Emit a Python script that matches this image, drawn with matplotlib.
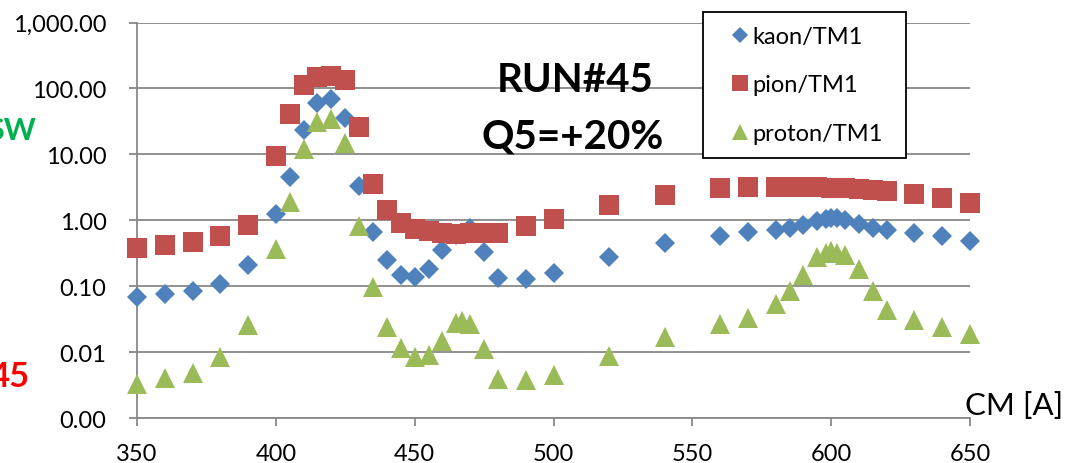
import numpy as np
import matplotlib
matplotlib.use("Agg")
import matplotlib.pyplot as plt
from matplotlib.ticker import FuncFormatter

plt.rcParams["font.family"] = ["Lato", "DejaVu Sans"]

# CM current [A]
kaon_x = [350, 360, 370, 380, 390, 400, 405, 410, 415, 420, 425, 430, 435, 440, 445,
          450, 455, 460, 465, 470, 475, 480, 490, 500, 520, 540, 560, 570, 580, 585,
          590, 595, 598, 600, 602, 605, 610, 615, 620, 630, 640, 650]
kaon_y = [0.068, 0.076, 0.084, 0.107, 0.208, 1.25, 4.6, 23.5, 61, 70, 36, 3.3, 0.67, 0.25, 0.147,
          0.137, 0.18, 0.35, 0.6, 0.75, 0.33, 0.132, 0.128, 0.16, 0.275, 0.45, 0.57, 0.66, 0.72, 0.77,
          0.86, 0.97, 1.05, 1.1, 1.08, 1.0, 0.88, 0.77, 0.70, 0.64, 0.57, 0.48]

pion_x = [350, 360, 370, 380, 390, 400, 405, 410, 415, 420, 425, 430, 435, 440, 445,
          450, 455, 460, 465, 470, 475, 480, 490, 500, 520, 540, 560, 570, 580, 585,
          590, 595, 600, 605, 610, 615, 620, 630, 640, 650]
pion_y = [0.38, 0.42, 0.46, 0.57, 0.84, 9.3, 41, 111, 148, 155, 132, 25.6, 3.5, 1.45, 0.9,
          0.73, 0.68, 0.64, 0.62, 0.63, 0.64, 0.65, 0.81, 1.03, 1.69, 2.4, 3.05, 3.15, 3.15, 3.15,
          3.15, 3.15, 3.1, 3.05, 2.95, 2.85, 2.75, 2.5, 2.15, 1.8]

proton_x = [350, 360, 370, 380, 390, 400, 405, 410, 415, 420, 425, 430, 435, 440, 445,
            450, 455, 460, 465, 467, 470, 475, 480, 490, 500, 520, 540, 560, 570, 580, 585,
            590, 595, 598, 600, 602, 605, 610, 615, 620, 630, 640, 650]
proton_y = [0.0033, 0.0040, 0.0048, 0.0084, 0.026, 0.36, 1.9, 12, 31, 34, 15, 0.81, 0.096, 0.024, 0.0115,
            0.0084, 0.009, 0.0146, 0.0275, 0.030, 0.027, 0.011, 0.0039, 0.0038, 0.0045, 0.0087, 0.0169, 0.0266, 0.033, 0.053, 0.084,
            0.15, 0.275, 0.32, 0.34, 0.32, 0.30, 0.18, 0.084, 0.043, 0.031, 0.024, 0.019]

labels = ["kaon/TM1", "pion/TM1", "proton/TM1"]
colors = ["#4F81BD", "#C0504D", "#9BBB59"]
grid_color = "#888888"

W, H = 1069, 464
fig = plt.figure(figsize=(W / 100, H / 100), dpi=100)
ax = fig.add_axes([137 / W, 1 - 419 / H, (970 - 137) / W, (419 - 23.5) / H])

ax.plot(kaon_x, kaon_y, "D", ms=10.2, color=colors[0], mew=0, label=labels[0], clip_on=False, zorder=3)
ax.plot(pion_x, pion_y, "s", ms=14.2, color=colors[1], mew=0, label=labels[1], clip_on=False, zorder=3)
ax.plot(proton_x, proton_y, "^", ms=14.2, color=colors[2], mew=0, label=labels[2], clip_on=False, zorder=3)

ax.set_yscale("log")
ax.set_ylim(0.001, 1000)
ax.set_xlim(350, 650)
ax.set_xticks(np.arange(350, 651, 50))
ax.set_yticks([0.001, 0.01, 0.1, 1, 10, 100, 1000])
ax.yaxis.set_minor_locator(matplotlib.ticker.NullLocator())
ax.yaxis.set_major_formatter(FuncFormatter(lambda v, p: f"{v:,.2f}"))

ax.grid(axis="y", color=grid_color, lw=1.3)
ax.set_axisbelow(True)
for s in ["top", "right"]:
    ax.spines[s].set_visible(False)
for s in ["left", "bottom"]:
    ax.spines[s].set_color(grid_color)
    ax.spines[s].set_linewidth(1.3)
ax.tick_params(axis="both", colors=grid_color, width=1.3, length=6, labelcolor="black", labelsize=17)
ax.tick_params(axis="y", pad=16)
ax.tick_params(axis="x", pad=12)

leg = ax.legend(loc="upper left", bbox_to_anchor=(0.679, 1.027, 0.244, 0.0), mode="expand",
                borderaxespad=0, fontsize=17, frameon=True, fancybox=False, framealpha=1,
                edgecolor="black", borderpad=0.6, labelspacing=1.16, handlelength=2.0,
                handletextpad=-0.5, numpoints=1, markerscale=0.78)
leg.get_frame().set_linewidth(1.3)

fig.text(575 / W, 1 - 92 / H, "RUN#45", ha="center", va="baseline", fontsize=29, fontweight="bold")
fig.text(573 / W, 1 - 149 / H, "Q5=+20%", ha="center", va="baseline", fontsize=29, fontweight="bold")
fig.text(965 / W, 1 - 415 / H, "CM [A]", ha="left", va="baseline", fontsize=22.5)
fig.text(36 / W, 1 - 140 / H, "SW", ha="right", va="baseline", fontsize=22, fontweight="bold", color="#00B050")
fig.text(30 / W, 1 - 387 / H, "45", ha="right", va="baseline", fontsize=25, fontweight="bold", color="#FF0000")

fig.savefig("out.png", dpi=100)
